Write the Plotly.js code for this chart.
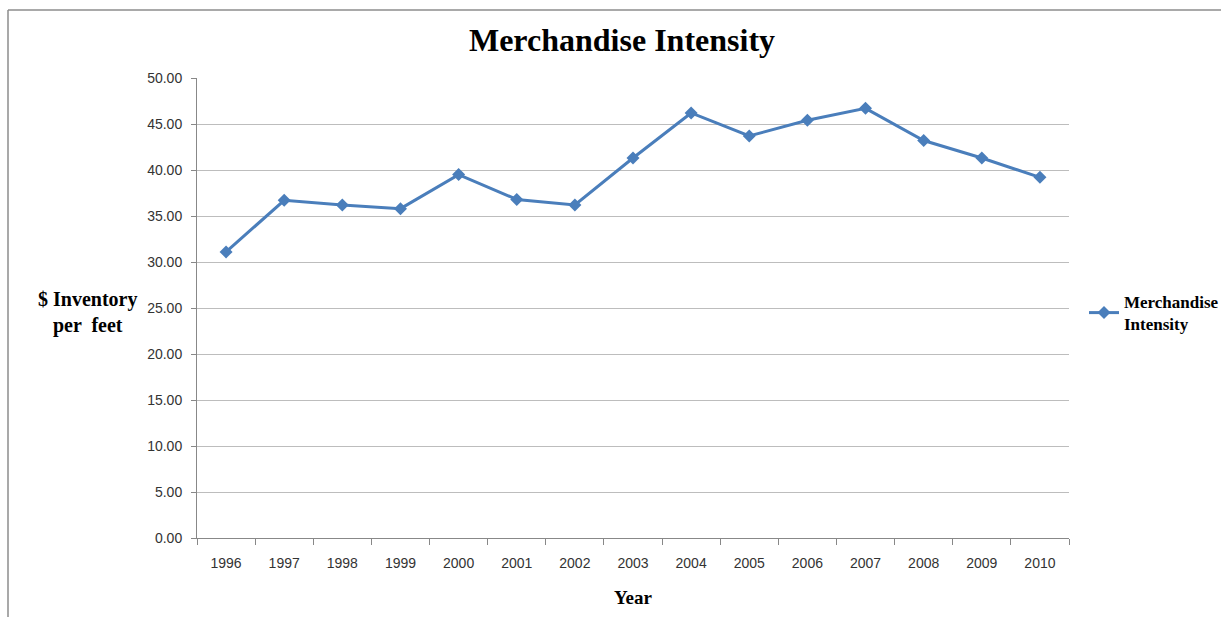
<!DOCTYPE html>
<html>
<head>
<meta charset="utf-8">
<script src="https://cdn.plot.ly/plotly-3.0.1.min.js"></script>
<style>html,body{margin:0;padding:0;background:#fff;}#chart{width:1221px;height:617px;}</style>
</head>
<body>
<div id="chart"></div>
<script>
var years = ["1996","1997","1998","1999","2000","2001","2002","2003","2004","2005","2006","2007","2008","2009","2010"];
var intensity = [31.1, 36.7, 36.2, 35.8, 39.5, 36.8, 36.2, 41.3, 46.2, 43.7, 45.4, 46.7, 43.2, 41.3, 39.2];
var yTickVals = [0,5,10,15,20,25,30,35,40,45,50];
var yTickText = ["0.00","5.00","10.00","15.00","20.00","25.00","30.00","35.00","40.00","45.00","50.00"];
var seriesName = "<b>Merchandise<br>Intensity</b>";

var serif = "Liberation Serif, DejaVu Serif, serif";
var sans = "Liberation Sans, Arial, sans-serif";

var trace = {
  x: years, y: intensity, type: "scatter", mode: "lines+markers",
  name: seriesName,
  line: {color: "#4a7ebb", width: 3},
  marker: {symbol: "diamond", size: 10, color: "#4a7ebb"}
};

var L = 197, R = 1069, T = 78, B = 538, W = 1221, H = 617;
function px(x){ return (x - L) / (R - L); }
function py(y){ return (B - y) / (B - T); }

var layout = {
  width: W, height: H,
  margin: {l: L, r: W - R, t: T, b: H - B, autoexpand: false},
  paper_bgcolor: "#fff", plot_bgcolor: "#fff",
  title: {text: "<b>Merchandise Intensity</b>", font: {family: serif, size: 32, color: "#000"},
          x: 622 / W, xanchor: "center", y: 1 - 40 / H, yanchor: "middle"},
  xaxis: {
    type: "category", range: [-0.5, years.length - 0.5], autorange: false,
    tickson: "boundaries", ticks: "outside", ticklen: 6, tickcolor: "#888",
    ticklabelstandoff: 12,
    showline: true, linecolor: "#888", linewidth: 1, showgrid: false, zeroline: false,
    tickfont: {family: sans, size: 14, color: "#333"},
    title: {text: "<b>Year</b>", font: {family: serif, size: 19, color: "#000"}, standoff: 20}
  },
  yaxis: {
    range: [0, 50], autorange: false, tickvals: yTickVals, ticktext: yTickText,
    ticks: "outside", ticklen: 5, tickcolor: "#888", ticklabelstandoff: 6,
    showline: true, linecolor: "#888", linewidth: 1,
    showgrid: true, gridcolor: "#bdbdbd", gridwidth: 1, zeroline: false,
    tickfont: {family: sans, size: 14, color: "#333"}
  },
  showlegend: true,
  legend: {x: px(1084), xanchor: "left", y: py(313), yanchor: "middle",
           font: {family: serif, size: 17, color: "#000"}, bgcolor: "rgba(0,0,0,0)"},
  annotations: [{
    text: "<b>$ Inventory<br>per  feet</b>", xref: "paper", yref: "paper",
    x: px(87), y: py(312), xanchor: "center", yanchor: "middle", showarrow: false,
    align: "center", font: {family: serif, size: 20, color: "#000"}
  }],
  shapes: [
    {type: "line", xref: "paper", yref: "paper", x0: px(8), x1: px(1230), y0: py(10), y1: py(10), line: {color: "#8c8c8c", width: 1.5}},
    {type: "line", xref: "paper", yref: "paper", x0: px(8), x1: px(8), y0: py(10), y1: py(630), line: {color: "#8c8c8c", width: 1.5}}
  ]
};

Plotly.newPlot("chart", [trace], layout, {displayModeBar: false, staticPlot: true});
</script>
</body>
</html>
